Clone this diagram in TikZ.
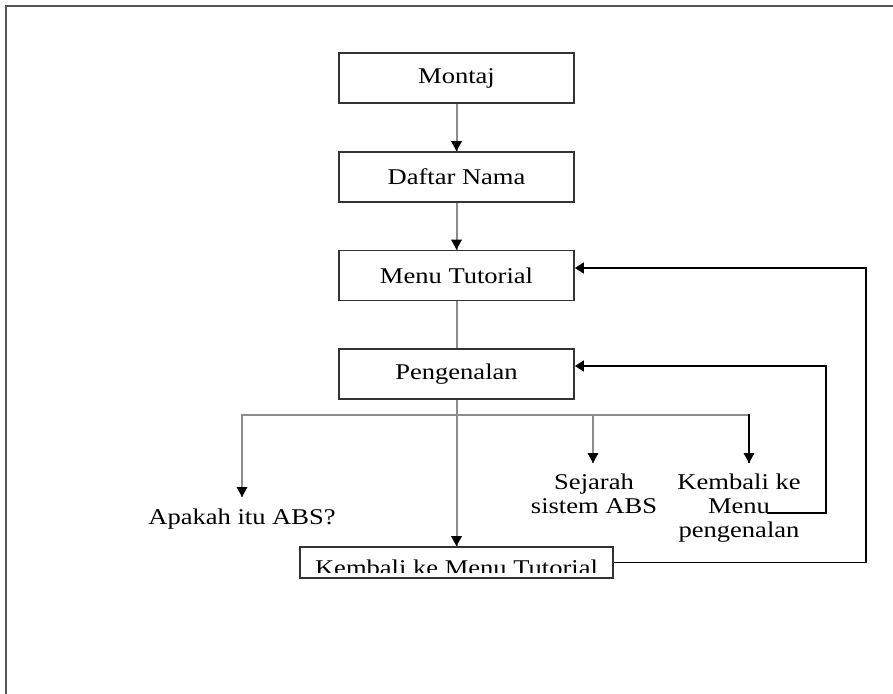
\documentclass[tikz,border=0pt]{standalone}
\usepackage{fontspec}
\setmainfont{Liberation Serif}[FakeStretch=1.18]
\usetikzlibrary{arrows.meta}
\definecolor{boxline}{HTML}{333333}
\definecolor{linkgray}{HTML}{8C8C8C}
\definecolor{framegray}{HTML}{555555}
\tikzset{
  stepbox/.style={draw=boxline, line width=1.8pt, minimum width=235pt, minimum height=50pt, inner sep=0pt},
  label text/.style={inner sep=0pt, align=center, anchor=base},
  tip/.style={-{Triangle[length=9pt,width=11pt]}},
  graylink/.style={draw=linkgray, line width=2pt},
  blacklink/.style={draw=black, line width=1.5pt},
}
\begin{document}
\begin{tikzpicture}[x=1pt,y=-1pt,font=\fontsize{22.5}{24}\selectfont]
\clip (0,0) rectangle (893,693);
\fill[white] (0,0) rectangle (893,693);
% page frame, running off the right and bottom edges
\draw[framegray, line width=2.2pt] (6,6) rectangle (920,720);

% main column
\node[stepbox] (montaj) at (456.5,78) {Montaj};
\node[stepbox] (daftar) at (456.5,177) {Daftar Nama};
\node[stepbox] (menu) at (456.5,275.5) {Menu Tutorial};
\node[stepbox] (peng) at (456.5,374) {Pengenalan};

% last box: its label is cut off a little above the bottom edge
\begin{scope}
  \clip (300,540) rectangle (613,572.5);
  \node[label text] (kmtlabel) at (456.5,575) {Kembali ke Menu Tutorial};
\end{scope}
\node[stepbox, minimum width=313pt, minimum height=31pt] (kmt) at (456.5,562.5) {};

% leaves of Pengenalan (base anchor sits on the last line)
\node[label text] (apakah) at (242,524) {Apakah itu ABS?};
\node[label text] (sejarah) at (594,513) {Sejarah\\sistem ABS};
\node[label text] (kembali) at (739,537) {Kembali ke\\Menu\\pengenalan};
\coordinate (menuend) at (767,513);
\coordinate (split) at (456.5,415);

% downward links
\draw[graylink] (montaj) -- (daftar);
\fill (daftar.north) -- ++(-5.5,-10) -- ++(11,0) -- cycle;
\draw[graylink] (daftar) -- (menu);
\fill (menu.north) -- ++(-5.5,-10) -- ++(11,0) -- cycle;
\draw[graylink] (menu) -- (peng);
\draw[graylink] (peng.south) -- (kmt.north);
\fill (kmt.north) -- ++(-5.5,-10) -- ++(11,0) -- cycle;

% branch bar
\draw[graylink] (split) -- (242,415) -- (242,497);
\fill (242,497) -- ++(-5.5,-10) -- ++(11,0) -- cycle;
\draw[graylink] (split) -- (749,415);
\draw[graylink] (593,415) -- (593,463);
\fill (593,463) -- ++(-5.5,-10) -- ++(11,0) -- cycle;
\draw[blacklink] (749,414.2) -- (749,463);
\fill (749,463) -- ++(-5.5,-10) -- ++(11,0) -- cycle;

% return loops
\draw[blacklink, tip] (menuend) -- (826,513) |- ([yshift=8pt]peng.east);
\draw[blacklink, tip] (kmt.east) -- (866,562.5) |- ([yshift=7.5pt]menu.east);
\end{tikzpicture}
\end{document}
